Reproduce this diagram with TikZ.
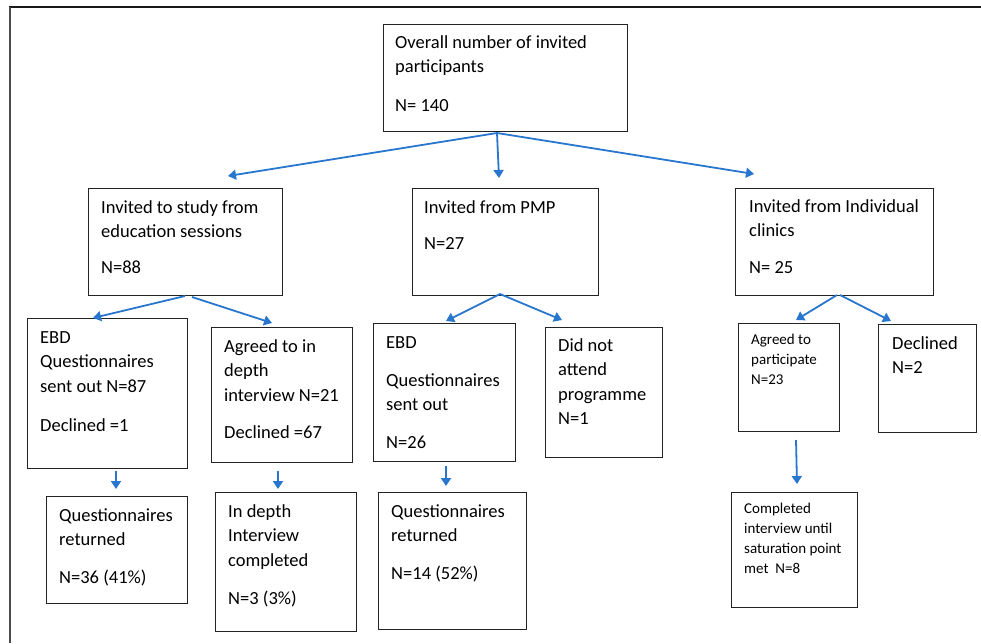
\documentclass[tikz,border=0pt]{standalone}
\usepackage{fontspec}
\setmainfont{Carlito}
\usetikzlibrary{arrows.meta}
\definecolor{arrowblue}{RGB}{40,118,206}
\definecolor{boxline}{RGB}{35,35,35}
\tikzset{
  box/.style={draw=boxline, line width=1.2pt, inner sep=0pt, anchor=north west},
  txt/.style={inner sep=0pt, anchor=north west, align=left, font=\fontsize{18.5}{24.5}\selectfont},
  smalltxt/.style={inner sep=0pt, anchor=north west, align=left, font=\fontsize{15}{20}\selectfont},
  arr/.style={draw=arrowblue, line width=1.8pt, -{Triangle[length=8pt,width=10pt]}},
}
\begin{document}
\begin{tikzpicture}[x=1pt,y=-1pt]
\useasboundingbox (0,0) rectangle (981,643);
% outer frame lines
\draw[black!90, line width=2pt] (9,7) -- (981,7);
\draw[black!70, line width=2.2pt] (10,7) -- (10,643);

% boxes
\node[box, minimum width=244pt, minimum height=107pt] (top) at (383,24) {};
\node[box, minimum width=194pt, minimum height=107pt] (A) at (88,188) {};
\node[box, minimum width=186pt, minimum height=107pt] (B) at (412,188) {};
\node[box, minimum width=198pt, minimum height=107pt] (C) at (735,188) {};
\node[box, minimum width=160pt, minimum height=150pt] (D) at (27,318) {};
\node[box, minimum width=141pt, minimum height=135pt] (E) at (211,327) {};
\node[box, minimum width=142pt, minimum height=138pt] (F) at (373,323) {};
\node[box, minimum width=117pt, minimum height=130pt] (G) at (545,327) {};
\node[box, minimum width=101pt, minimum height=108pt] (H) at (738,323) {};
\node[box, minimum width=98pt, minimum height=108pt] (I) at (878,324) {};
\node[box, minimum width=141pt, minimum height=107pt] (J) at (46,496) {};
\node[box, minimum width=141pt, minimum height=139pt] (K) at (215,492) {};
\node[box, minimum width=148pt, minimum height=137pt] (L) at (378,492) {};
\node[box, minimum width=126pt, minimum height=115pt] (M) at (731,492) {};

% texts
\node[txt] (topt) at (395,30.85) {\strut Overall number of invited\\participants\\[14.5pt]N= 140};
\node[txt] (At) at (101,195.85) {\strut Invited to study from\\education sessions\\[11.5pt]N=88};
\node[txt] (Bt) at (424,195.85) {\strut Invited from PMP\\[11.5pt]N=27};
\node[txt] (Ct) at (749,194.85) {\strut Invited from Individual\\clinics\\[12.5pt]N= 25};
\node[txt] (Dt) at (40,325.85) {\strut EBD\\Questionnaires\\sent out N=87\\[14.5pt]Declined =1};
\node[txt] (Et) at (224,334.85) {\strut Agreed to in\\depth\\interview N=21\\[12.5pt]Declined =67};
\node[txt] (Ft) at (386,330.85) {\strut EBD\\[13.5pt]Questionnaires\\sent out\\[13.5pt]N=26};
\node[txt] (Gt) at (558,333.85) {\strut Did not\\attend\\programme\\N=1};
\node[smalltxt] (Ht) at (751,330) {\strut Agreed to\\participate\\N=23};
\node[txt] (It) at (892,331.85) {\strut Declined\\N=2};
\node[txt] (Jt) at (59,503.85) {\strut Questionnaires\\returned\\[13.5pt]N=36 (41\%)};
\node[txt] (Kt) at (228,499.85) {\strut In depth\\Interview\\completed\\[13.5pt]N=3 (3\%)};
\node[txt] (Lt) at (391,499.85) {\strut Questionnaires\\returned\\[13.5pt]N=14 (52\%)};
\node[smalltxt] (Mt) at (744,499) {\strut Completed\\interview until\\saturation point\\met~ N=8};

% connector end points
\coordinate (top0) at (497,133);
\coordinate (tA) at (228,176);
\coordinate (tB) at (499,178);
\coordinate (tC) at (754,174);
\coordinate (A0) at (185,296);
\coordinate (A1) at (192,297);
\coordinate (tD) at (93,318);
\coordinate (tE) at (272,323);
\coordinate (B0) at (500,294);
\coordinate (tF) at (446,321);
\coordinate (tG) at (562,320);
\coordinate (C0) at (837,295);
\coordinate (C1) at (840,295);
\coordinate (tH) at (796,320);
\coordinate (tI) at (891,321);
\coordinate (D0) at (116,471);
\coordinate (tJ) at (116,489);
\coordinate (E0) at (278,471);
\coordinate (tK) at (278,489);
\coordinate (F0) at (446,466);
\coordinate (tL) at (446,486);
\coordinate (H0) at (796,440);
\coordinate (tM) at (797,484);

% connectors
\draw[arr] (top0) -- (tA);
\draw[arr] (top0) -- (tB);
\draw[arr] (top0) -- (tC);
\draw[arr] (A0) -- (tD);
\draw[arr] (A1) -- (tE);
\draw[arr] (B0) -- (tF);
\draw[arr] (B0) -- (tG);
\draw[arr] (C0) -- (tH);
\draw[arr] (C1) -- (tI);
\draw[arr] (D0) -- (tJ);
\draw[arr] (E0) -- (tK);
\draw[arr] (F0) -- (tL);
\draw[arr] (H0) -- (tM);
\end{tikzpicture}
\end{document}
